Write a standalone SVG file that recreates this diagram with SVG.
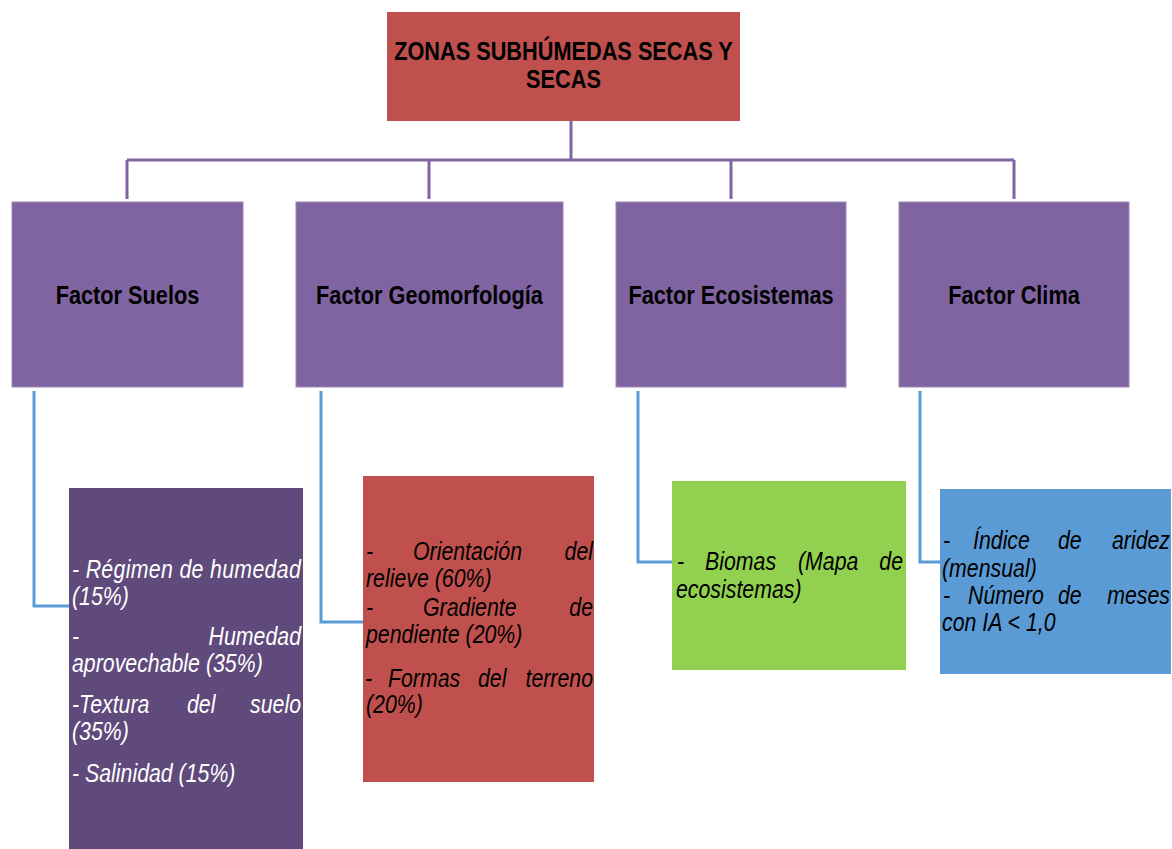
<svg xmlns="http://www.w3.org/2000/svg" width="1172" height="849" viewBox="0 0 1172 849">
  <style>
    text { font-family: "Liberation Sans", Arial, sans-serif; }
    .title { font-size: 26.5px; font-weight: bold; fill: #000; text-anchor: middle; }
    .factor-box { fill: #8064A2; stroke: #9C88B8; stroke-width: 1; }
    .factor { font-size: 26.5px; font-weight: bold; fill: #000; text-anchor: middle; }
    .item { font-size: 26px; font-style: italic; }
    .light { fill: #FFFFFF; }
    .dark { fill: #000000; }
    .end { text-anchor: end; }
    .trunk { fill: none; stroke: #8064A2; stroke-width: 3; }
    .branch { fill: none; stroke: #5B9BD5; stroke-width: 3; }
  </style>

  <rect width="1172" height="849" fill="#FFFFFF"/>

  <!-- connectors -->
  <g id="connectors">
    <path class="trunk" d="M571,121 V160 M127,160 H1014 M127,160 V199 M429,160 V199 M731,160 V199 M1014,160 V199"/>
    <path class="branch" d="M34,391 V606 H69"/>
    <path class="branch" d="M321,391 V622 H363"/>
    <path class="branch" d="M638,391 V562 H672"/>
    <path class="branch" d="M920,391 V562 H940"/>
  </g>

  <!-- root; all labels use a narrow (0.82) horizontal scale -->
  <g id="root">
    <rect x="387" y="12" width="353" height="109" fill="#C0504D"/>
    <text class="title" transform="translate(563.5,60) scale(0.82,1)">ZONAS SUBHÚMEDAS SECAS Y</text>
    <text class="title" transform="translate(563.5,88) scale(0.82,1)">SECAS</text>
  </g>

  <!-- factor nodes -->
  <g id="factor-suelos">
    <rect class="factor-box" x="12" y="202" width="231" height="185"/>
    <text class="factor" transform="translate(127.5,304) scale(0.82,1)">Factor Suelos</text>
  </g>
  <g id="factor-geomorfologia">
    <rect class="factor-box" x="296" y="202" width="267" height="185"/>
    <text class="factor" transform="translate(429.5,304) scale(0.82,1)">Factor Geomorfología</text>
  </g>
  <g id="factor-ecosistemas">
    <rect class="factor-box" x="616" y="202" width="230" height="185"/>
    <text class="factor" transform="translate(731,304) scale(0.82,1)">Factor Ecosistemas</text>
  </g>
  <g id="factor-clima">
    <rect class="factor-box" x="899" y="202" width="230" height="185"/>
    <text class="factor" transform="translate(1014,304) scale(0.82,1)">Factor Clima</text>
  </g>

  <!-- detail nodes -->
  <g id="detalle-suelos">
    <rect x="69" y="488" width="234" height="361" fill="#604A7B"/>
    <text class="item light" transform="translate(72,578) scale(0.82,1)" textLength="279" lengthAdjust="spacing">- Régimen de humedad</text>
    <text class="item light" transform="translate(72,605) scale(0.82,1)">(15%)</text>
    <text class="item light" transform="translate(72,645) scale(0.82,1)">-</text>
    <text class="item light end" transform="translate(301,645) scale(0.82,1)">Humedad</text>
    <text class="item light" transform="translate(72,672) scale(0.82,1)">aprovechable (35%)</text>
    <text class="item light" transform="translate(72,713) scale(0.82,1)">-Textura</text>
    <text class="item light" transform="translate(187,713) scale(0.82,1)">del</text>
    <text class="item light end" transform="translate(301,713) scale(0.82,1)">suelo</text>
    <text class="item light" transform="translate(72,740) scale(0.82,1)">(35%)</text>
    <text class="item light" transform="translate(72,782) scale(0.82,1)">- Salinidad (15%)</text>
  </g>

  <g id="detalle-geomorfologia">
    <rect x="363" y="476" width="231" height="306" fill="#C0504D"/>
    <text class="item dark" transform="translate(366,560) scale(0.82,1)">-</text>
    <text class="item dark" transform="translate(413,560) scale(0.82,1)">Orientación</text>
    <text class="item dark end" transform="translate(593,560) scale(0.82,1)">del</text>
    <text class="item dark" transform="translate(366,587) scale(0.82,1)">relieve (60%)</text>
    <text class="item dark" transform="translate(366,616) scale(0.82,1)">-</text>
    <text class="item dark" transform="translate(423,616) scale(0.82,1)">Gradiente</text>
    <text class="item dark end" transform="translate(593,616) scale(0.82,1)">de</text>
    <text class="item dark" transform="translate(366,643) scale(0.82,1)">pendiente (20%)</text>
    <text class="item dark" transform="translate(365,687) scale(0.82,1)">-</text>
    <text class="item dark" transform="translate(388,687) scale(0.82,1)">Formas</text>
    <text class="item dark" transform="translate(478,687) scale(0.82,1)">del</text>
    <text class="item dark end" transform="translate(593,687) scale(0.82,1)">terreno</text>
    <text class="item dark" transform="translate(366,713) scale(0.82,1)">(20%)</text>
  </g>

  <g id="detalle-ecosistemas">
    <rect x="672" y="481" width="234" height="189" fill="#92D050"/>
    <text class="item dark" transform="translate(677,570) scale(0.82,1)">-</text>
    <text class="item dark" transform="translate(705,570) scale(0.82,1)">Biomas</text>
    <text class="item dark" transform="translate(798,570) scale(0.82,1)">(Mapa</text>
    <text class="item dark end" transform="translate(903,570) scale(0.82,1)">de</text>
    <text class="item dark" transform="translate(676,598) scale(0.82,1)">ecosistemas)</text>
  </g>

  <g id="detalle-clima">
    <rect x="940" y="489" width="231" height="185" fill="#5B9BD5"/>
    <text class="item dark" transform="translate(943,549) scale(0.82,1)">-</text>
    <text class="item dark" transform="translate(973,549) scale(0.82,1)">Índice</text>
    <text class="item dark" transform="translate(1058,549) scale(0.82,1)">de</text>
    <text class="item dark end" transform="translate(1170,549) scale(0.82,1)">aridez</text>
    <text class="item dark" transform="translate(942,577) scale(0.82,1)">(mensual)</text>
    <text class="item dark" transform="translate(943,604) scale(0.82,1)">-</text>
    <text class="item dark" transform="translate(968,604) scale(0.82,1)">Número</text>
    <text class="item dark" transform="translate(1058,604) scale(0.82,1)">de</text>
    <text class="item dark end" transform="translate(1170,604) scale(0.82,1)">meses</text>
    <text class="item dark" transform="translate(942,631) scale(0.82,1)">con IA &lt; 1,0</text>
  </g>
</svg>
